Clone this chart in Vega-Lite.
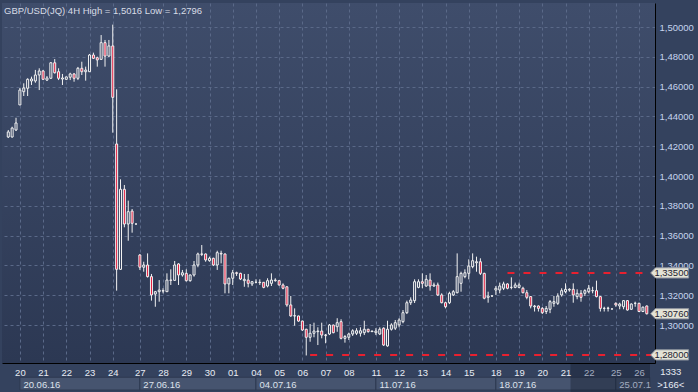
{
"$schema": "https://vega.github.io/schema/vega-lite/v6.json",
"width": 653, "height": 360,
"autosize": {"type": "none"},
"padding": {"left": 2, "top": 3, "right": 43, "bottom": 29},
"background": "#34425e",
"config": {
  "font": "Liberation Sans",
  "view": {"stroke": null, "fill": {"gradient": "linear", "x1": 0, "y1": 0, "x2": 0, "y2": 1, "stops": [{"offset": 0, "color": "#3f4d6b"}, {"offset": 1, "color": "#2c3853"}]}}
},
"title": {"text": "GBP/USD(JQ) 4H High = 1,5016 Low = 1,2796", "anchor": "start", "frame": "group", "offset": -12, "dx": 2, "fontSize": 9.5, "fontWeight": "normal", "color": "#d8dce6", "font": "Liberation Sans"},
"datasets": {
"candles": [
{"i":0,"o":1.4262,"h":1.4309,"l":1.4255,"c":1.4296},
{"i":1,"o":1.4262,"h":1.4331,"l":1.4258,"c":1.4322},
{"i":2,"o":1.4309,"h":1.4391,"l":1.4302,"c":1.4356},
{"i":3,"o":1.4477,"h":1.4591,"l":1.4477,"c":1.4577},
{"i":4,"o":1.4566,"h":1.4622,"l":1.4537,"c":1.4591},
{"i":5,"o":1.4589,"h":1.4656,"l":1.4537,"c":1.4649},
{"i":6,"o":1.4638,"h":1.4667,"l":1.4611,"c":1.4651},
{"i":7,"o":1.4638,"h":1.4712,"l":1.4626,"c":1.4678},
{"i":8,"o":1.4678,"h":1.4723,"l":1.4577,"c":1.4705},
{"i":9,"o":1.4705,"h":1.4712,"l":1.4644,"c":1.4649},
{"i":10,"o":1.4644,"h":1.4671,"l":1.4638,"c":1.4658},
{"i":11,"o":1.4656,"h":1.4765,"l":1.4651,"c":1.4760},
{"i":12,"o":1.4760,"h":1.4785,"l":1.4688,"c":1.4693},
{"i":13,"o":1.4700,"h":1.4723,"l":1.4644,"c":1.4656},
{"i":14,"o":1.4651,"h":1.4685,"l":1.4611,"c":1.4658},
{"i":15,"o":1.4649,"h":1.4667,"l":1.4644,"c":1.4665},
{"i":16,"o":1.4663,"h":1.4693,"l":1.4644,"c":1.4685},
{"i":17,"o":1.4685,"h":1.4691,"l":1.4633,"c":1.4656},
{"i":18,"o":1.4656,"h":1.4732,"l":1.4644,"c":1.4723},
{"i":19,"o":1.4723,"h":1.4767,"l":1.4678,"c":1.4700},
{"i":20,"o":1.4700,"h":1.4734,"l":1.4640,"c":1.4711},
{"i":21,"o":1.4700,"h":1.4819,"l":1.4700,"c":1.4812},
{"i":22,"o":1.4812,"h":1.4828,"l":1.4785,"c":1.4790},
{"i":23,"o":1.4794,"h":1.4801,"l":1.4734,"c":1.4779},
{"i":24,"o":1.4783,"h":1.4946,"l":1.4779,"c":1.4895},
{"i":25,"o":1.4895,"h":1.4913,"l":1.4734,"c":1.4805},
{"i":26,"o":1.4805,"h":1.4913,"l":1.4799,"c":1.4873},
{"i":27,"o":1.4873,"h":1.5016,"l":1.4291,"c":1.4528},
{"i":28,"o":1.4215,"h":1.4582,"l":1.3231,"c":1.3374},
{"i":29,"o":1.3374,"h":1.3978,"l":1.3370,"c":1.3911},
{"i":30,"o":1.3911,"h":1.3940,"l":1.3656,"c":1.3678},
{"i":31,"o":1.3678,"h":1.3835,"l":1.3566,"c":1.3761},
{"i":32,"o":1.3765,"h":1.3779,"l":1.3620,"c":1.3683},
{"i":33,"o":1.3678,"h":1.3680,"l":1.3676,"c":1.3678},
{"i":34,"o":1.3470,"h":1.3477,"l":1.3370,"c":1.3388},
{"i":35,"o":1.3388,"h":1.3425,"l":1.3358,"c":1.3403},
{"i":36,"o":1.3403,"h":1.3481,"l":1.3319,"c":1.3325},
{"i":37,"o":1.3325,"h":1.3343,"l":1.3164,"c":1.3202},
{"i":38,"o":1.3208,"h":1.3229,"l":1.3123,"c":1.3224},
{"i":39,"o":1.3224,"h":1.3302,"l":1.3157,"c":1.3235},
{"i":40,"o":1.3228,"h":1.3247,"l":1.3213,"c":1.3231},
{"i":41,"o":1.3224,"h":1.3347,"l":1.3222,"c":1.3302},
{"i":42,"o":1.3302,"h":1.3374,"l":1.3269,"c":1.3300},
{"i":43,"o":1.3300,"h":1.3430,"l":1.3298,"c":1.3403},
{"i":44,"o":1.3410,"h":1.3415,"l":1.3269,"c":1.3336},
{"i":45,"o":1.3336,"h":1.3370,"l":1.3325,"c":1.3351},
{"i":46,"o":1.3347,"h":1.3374,"l":1.3292,"c":1.3298},
{"i":47,"o":1.3298,"h":1.3340,"l":1.3291,"c":1.3336},
{"i":48,"o":1.3336,"h":1.3430,"l":1.3325,"c":1.3403},
{"i":49,"o":1.3403,"h":1.3486,"l":1.3388,"c":1.3477},
{"i":50,"o":1.3477,"h":1.3537,"l":1.3463,"c":1.3475},
{"i":51,"o":1.3477,"h":1.3480,"l":1.3425,"c":1.3437},
{"i":52,"o":1.3432,"h":1.3459,"l":1.3425,"c":1.3448},
{"i":53,"o":1.3448,"h":1.3452,"l":1.3396,"c":1.3403},
{"i":54,"o":1.3403,"h":1.3499,"l":1.3370,"c":1.3486},
{"i":55,"o":1.3481,"h":1.3499,"l":1.3414,"c":1.3477},
{"i":56,"o":1.3477,"h":1.3480,"l":1.3213,"c":1.3276},
{"i":57,"o":1.3276,"h":1.3318,"l":1.3213,"c":1.3314},
{"i":58,"o":1.3314,"h":1.3370,"l":1.3269,"c":1.3351},
{"i":59,"o":1.3351,"h":1.3358,"l":1.3330,"c":1.3347},
{"i":60,"o":1.3347,"h":1.3351,"l":1.3302,"c":1.3309},
{"i":61,"o":1.3298,"h":1.3343,"l":1.3257,"c":1.3307},
{"i":62,"o":1.3302,"h":1.3343,"l":1.3253,"c":1.3280},
{"i":63,"o":1.3276,"h":1.3295,"l":1.3262,"c":1.3291},
{"i":64,"o":1.3287,"h":1.3307,"l":1.3280,"c":1.3287},
{"i":65,"o":1.3287,"h":1.3307,"l":1.3269,"c":1.3285},
{"i":66,"o":1.3287,"h":1.3289,"l":1.3247,"c":1.3253},
{"i":67,"o":1.3262,"h":1.3314,"l":1.3253,"c":1.3298},
{"i":68,"o":1.3280,"h":1.3347,"l":1.3262,"c":1.3302},
{"i":69,"o":1.3302,"h":1.3314,"l":1.3291,"c":1.3298},
{"i":70,"o":1.3298,"h":1.3300,"l":1.3265,"c":1.3269},
{"i":71,"o":1.3269,"h":1.3280,"l":1.3240,"c":1.3247},
{"i":72,"o":1.3257,"h":1.3260,"l":1.3123,"c":1.3135},
{"i":73,"o":1.3135,"h":1.3195,"l":1.3056,"c":1.3061},
{"i":74,"o":1.3061,"h":1.3112,"l":1.2996,"c":1.3063},
{"i":75,"o":1.3061,"h":1.3063,"l":1.3022,"c":1.3027},
{"i":76,"o":1.3027,"h":1.3030,"l":1.2960,"c":1.2967},
{"i":77,"o":1.2972,"h":1.2975,"l":1.2796,"c":1.2918},
{"i":78,"o":1.2918,"h":1.3007,"l":1.2888,"c":1.2945},
{"i":79,"o":1.2945,"h":1.3016,"l":1.2918,"c":1.2960},
{"i":80,"o":1.2956,"h":1.2985,"l":1.2866,"c":1.2960},
{"i":81,"o":1.2960,"h":1.3016,"l":1.2911,"c":1.2933},
{"i":82,"o":1.2933,"h":1.2940,"l":1.2878,"c":1.2931},
{"i":83,"o":1.2940,"h":1.3007,"l":1.2933,"c":1.3000},
{"i":84,"o":1.3000,"h":1.3003,"l":1.2945,"c":1.2949},
{"i":85,"o":1.2989,"h":1.3046,"l":1.2955,"c":1.3016},
{"i":86,"o":1.3023,"h":1.3039,"l":1.2904,"c":1.2911},
{"i":87,"o":1.2911,"h":1.2933,"l":1.2882,"c":1.2923},
{"i":88,"o":1.2918,"h":1.2949,"l":1.2900,"c":1.2940},
{"i":89,"o":1.2940,"h":1.2972,"l":1.2927,"c":1.2962},
{"i":90,"o":1.2945,"h":1.2979,"l":1.2933,"c":1.2962},
{"i":91,"o":1.2945,"h":1.2985,"l":1.2923,"c":1.2962},
{"i":92,"o":1.2949,"h":1.3029,"l":1.2933,"c":1.2972},
{"i":93,"o":1.2972,"h":1.2975,"l":1.2949,"c":1.2956},
{"i":94,"o":1.2956,"h":1.2962,"l":1.2954,"c":1.2960},
{"i":95,"o":1.2949,"h":1.2979,"l":1.2933,"c":1.2960},
{"i":96,"o":1.2940,"h":1.2985,"l":1.2933,"c":1.2972},
{"i":97,"o":1.2979,"h":1.2985,"l":1.2860,"c":1.2866},
{"i":98,"o":1.2860,"h":1.3029,"l":1.2855,"c":1.2972},
{"i":99,"o":1.2972,"h":1.3012,"l":1.2963,"c":1.3001},
{"i":100,"o":1.2979,"h":1.3034,"l":1.2967,"c":1.3016},
{"i":101,"o":1.3001,"h":1.3046,"l":1.2985,"c":1.3034},
{"i":102,"o":1.3023,"h":1.3101,"l":1.3012,"c":1.3083},
{"i":103,"o":1.3083,"h":1.3164,"l":1.3074,"c":1.3150},
{"i":104,"o":1.3150,"h":1.3186,"l":1.3135,"c":1.3168},
{"i":105,"o":1.3164,"h":1.3307,"l":1.3148,"c":1.3291},
{"i":106,"o":1.3253,"h":1.3307,"l":1.3247,"c":1.3291},
{"i":107,"o":1.3291,"h":1.3347,"l":1.3247,"c":1.3280},
{"i":108,"o":1.3262,"h":1.3336,"l":1.3257,"c":1.3307},
{"i":109,"o":1.3302,"h":1.3347,"l":1.3231,"c":1.3262},
{"i":110,"o":1.3262,"h":1.3285,"l":1.3257,"c":1.3269},
{"i":111,"o":1.3269,"h":1.3285,"l":1.3195,"c":1.3202},
{"i":112,"o":1.3202,"h":1.3213,"l":1.3146,"c":1.3150},
{"i":113,"o":1.3150,"h":1.3157,"l":1.3112,"c":1.3123},
{"i":114,"o":1.3150,"h":1.3224,"l":1.3141,"c":1.3213},
{"i":115,"o":1.3202,"h":1.3235,"l":1.3195,"c":1.3224},
{"i":116,"o":1.3217,"h":1.3481,"l":1.3213,"c":1.3325},
{"i":117,"o":1.3280,"h":1.3358,"l":1.3224,"c":1.3347},
{"i":118,"o":1.3325,"h":1.3374,"l":1.3314,"c":1.3351},
{"i":119,"o":1.3347,"h":1.3441,"l":1.3307,"c":1.3396},
{"i":120,"o":1.3392,"h":1.3481,"l":1.3381,"c":1.3432},
{"i":121,"o":1.3418,"h":1.3459,"l":1.3358,"c":1.3425},
{"i":122,"o":1.3425,"h":1.3448,"l":1.3336,"c":1.3347},
{"i":123,"o":1.3347,"h":1.3351,"l":1.3173,"c":1.3180},
{"i":124,"o":1.3186,"h":1.3224,"l":1.3150,"c":1.3195},
{"i":125,"o":1.3195,"h":1.3198,"l":1.3192,"c":1.3195},
{"i":126,"o":1.3235,"h":1.3262,"l":1.3202,"c":1.3247},
{"i":127,"o":1.3235,"h":1.3285,"l":1.3213,"c":1.3262},
{"i":128,"o":1.3247,"h":1.3291,"l":1.3235,"c":1.3276},
{"i":129,"o":1.3276,"h":1.3280,"l":1.3240,"c":1.3247},
{"i":130,"o":1.3253,"h":1.3320,"l":1.3240,"c":1.3253},
{"i":131,"o":1.3253,"h":1.3285,"l":1.3247,"c":1.3269},
{"i":132,"o":1.3253,"h":1.3285,"l":1.3247,"c":1.3269},
{"i":133,"o":1.3247,"h":1.3257,"l":1.3213,"c":1.3217},
{"i":134,"o":1.3217,"h":1.3235,"l":1.3173,"c":1.3186},
{"i":135,"o":1.3191,"h":1.3195,"l":1.3112,"c":1.3128},
{"i":136,"o":1.3123,"h":1.3135,"l":1.3091,"c":1.3128},
{"i":137,"o":1.3128,"h":1.3132,"l":1.3091,"c":1.3112},
{"i":138,"o":1.3112,"h":1.3121,"l":1.3074,"c":1.3083},
{"i":139,"o":1.3091,"h":1.3128,"l":1.3074,"c":1.3112},
{"i":140,"o":1.3106,"h":1.3168,"l":1.3080,"c":1.3157},
{"i":141,"o":1.3146,"h":1.3195,"l":1.3123,"c":1.3157},
{"i":142,"o":1.3146,"h":1.3213,"l":1.3135,"c":1.3195},
{"i":143,"o":1.3202,"h":1.3247,"l":1.3191,"c":1.3231},
{"i":144,"o":1.3224,"h":1.3280,"l":1.3213,"c":1.3240},
{"i":145,"o":1.3235,"h":1.3247,"l":1.3224,"c":1.3240},
{"i":146,"o":1.3240,"h":1.3280,"l":1.3150,"c":1.3202},
{"i":147,"o":1.3191,"h":1.3240,"l":1.3173,"c":1.3213},
{"i":148,"o":1.3213,"h":1.3235,"l":1.3157,"c":1.3186},
{"i":149,"o":1.3213,"h":1.3240,"l":1.3195,"c":1.3231},
{"i":150,"o":1.3224,"h":1.3269,"l":1.3213,"c":1.3247},
{"i":151,"o":1.3231,"h":1.3257,"l":1.3213,"c":1.3231},
{"i":152,"o":1.3231,"h":1.3298,"l":1.3186,"c":1.3191},
{"i":153,"o":1.3191,"h":1.3195,"l":1.3091,"c":1.3112},
{"i":154,"o":1.3112,"h":1.3123,"l":1.3091,"c":1.3112},
{"i":155,"o":1.3112,"h":1.3123,"l":1.3091,"c":1.3114},
{"i":156,"o":1.3108,"h":1.3110,"l":1.3106,"c":1.3108},
{"i":157,"o":1.3146,"h":1.3153,"l":1.3123,"c":1.3135},
{"i":158,"o":1.3128,"h":1.3150,"l":1.3106,"c":1.3141},
{"i":159,"o":1.3123,"h":1.3168,"l":1.3106,"c":1.3164},
{"i":160,"o":1.3164,"h":1.3168,"l":1.3097,"c":1.3101},
{"i":161,"o":1.3106,"h":1.3146,"l":1.3101,"c":1.3141},
{"i":162,"o":1.3146,"h":1.3157,"l":1.3123,"c":1.3146},
{"i":163,"o":1.3146,"h":1.3150,"l":1.3087,"c":1.3091},
{"i":164,"o":1.3091,"h":1.3125,"l":1.3087,"c":1.3120},
{"i":165,"o":1.3128,"h":1.3132,"l":1.3071,"c":1.3076}
],
"weeks": [
{"start": 3, "end": 34},
{"start": 34, "end": 64},
{"start": 64, "end": 95},
{"start": 95, "end": 126},
{"start": 126, "end": 157},
{"start": 157, "end": 165.83}
],
"levels": [
{"price": 1.335, "from": 129, "to": 168},
{"price": 1.28, "from": 78, "to": 168}
],
"tags": [
{"price": 1.335, "label": "1,33500"},
{"price": 1.3076, "label": "1,30760"},
{"price": 1.28, "label": "1,28000"}
]
},
"resolve": {"axis": {"x": "independent", "y": "independent"}},
"layer": [
{
  "data": {"name": "candles"},
  "mark": {"type": "rule", "color": "#f2f2f2", "strokeWidth": 1},
  "encoding": {
    "x": {"field": "i", "type": "quantitative",
      "scale": {"domain": [-0.33, 165.83], "nice": false, "zero": false},
      "axis": {"orient": "bottom", "title": null, "values": [3,9,15,21,27,34,40,46,52,58,64,70,76,82,88,95,101,107,113,119,126,132,138,144,150,157,163],
        "labelExpr": "['20','21','22','23','24','27','28','29','30','01','04','05','06','07','08','11','12','13','14','15','18','19','20','21','22','25','26'][indexof([3,9,15,21,27,34,40,46,52,58,64,70,76,82,88,95,101,107,113,119,126,132,138,144,150,157,163], datum.value)]",
        "grid": false,
        "ticks": false, "domain": true, "domainColor": "#000000", "domainWidth": 1,
        "labelFont": "Liberation Sans", "labelFontSize": 9.5, "labelPadding": 4,
        "labelColor": {"condition": {"test": "datum.value > 146", "value": "#a4adc0"}, "value": "#e8ecf4"},
        "labelFlush": false, "labelOverlap": false, "zindex": 1}},
    "y": {"field": "l", "type": "quantitative",
      "scale": {"domain": [1.27455, 1.51611], "nice": false, "zero": false},
      "axis": {"orient": "right", "title": null, "values": [1.30,1.32,1.34,1.36,1.38,1.40,1.42,1.44,1.46,1.48,1.50],
        "labelExpr": "replace(format(datum.value, '.5f'), '.', ',')",
        "grid": true, "gridColor": "#5a6988", "gridDash": [3, 3], "gridWidth": 1,
        "ticks": false, "domain": true, "domainColor": "#000000", "domainWidth": 1,
        "labelFont": "Liberation Sans", "labelFontSize": 9.5, "labelPadding": 4, "labelColor": "#c6d4ee",
        "labelFlush": false, "labelOverlap": false, "zindex": 0}},
    "y2": {"field": "h"}
  }
},
{
  "data": {"name": "candles"},
  "mark": {"type": "bar", "width": 2, "stroke": "#f2f2f2", "strokeWidth": 1},
  "encoding": {
    "x": {"field": "i", "type": "quantitative",
      "axis": {"orient": "bottom", "title": null, "values": [3,34,64,95,126,157],
        "labelExpr": "['20.06.16','27.06.16','04.07.16','11.07.16','18.07.16','25.07.1'][indexof([3,34,64,95,126,157], datum.value)]",
        "grid": false, "ticks": false, "domain": false,
        "labelAlign": "left", "labelOffset": 3, "labelPadding": 16,
        "labelFont": "Liberation Sans", "labelFontSize": 9.5,
        "labelColor": {"condition": {"test": "datum.value > 150", "value": "#a4adc0"}, "value": "#dde2ec"},
        "labelFlush": false, "labelOverlap": false, "zindex": 1}},
    "y": {"field": "o", "type": "quantitative", "axis": null},
    "y2": {"field": "c"},
    "fill": {"condition": {"test": "datum.c < datum.o", "value": "#e3173a"}, "value": "#35425f"}
  }
},
{
  "data": {"name": "weeks"},
  "mark": {"type": "rect", "fill": "#46546f", "stroke": "#2e3a52", "strokeWidth": 1, "clip": false},
  "encoding": {
    "x": {"field": "start", "type": "quantitative",
      "axis": {"orient": "bottom", "title": null, "values": [3,9,15,21,27,34,40,46,52,58,64,70,76,82,88,95,101,107,113,119,126,132,138,144,150,157,163],
        "grid": true, "gridColor": "#5a6988", "gridDash": [3, 3], "gridWidth": 1,
        "labels": false, "ticks": false, "domain": false, "zindex": 0}},
    "x2": {"field": "end"},
    "y": {"datum": 1.26496, "type": "quantitative", "axis": null},
    "y2": {"datum": 1.25643}
  }
},
{
  "data": {"values": [{"note": "view"}]},
  "mark": {"type": "rect", "fill": "#151d30", "opacity": 0.4, "clip": false},
  "encoding": {
    "x": {"datum": 145.3, "type": "quantitative", "axis": null},
    "x2": {"datum": 165.83},
    "y": {"datum": 1.27455, "type": "quantitative", "axis": null},
    "y2": {"datum": 1.2551}
  }
},
{
  "data": {"name": "levels"},
  "mark": {"type": "rule", "color": "#e8202f", "strokeWidth": 2, "strokeDash": [7, 9], "clip": true},
  "encoding": {
    "x": {"field": "from", "type": "quantitative", "axis": null},
    "x2": {"field": "to"},
    "y": {"field": "price", "type": "quantitative", "axis": null}
  }
},
{
  "data": {"name": "tags"},
  "mark": {"type": "point", "shape": "M-1,0L-0.74,-0.27L1,-0.27L1,0.27L-0.74,0.27Z", "size": 1444, "filled": true, "fill": "#e4e3d6", "stroke": "#8d939e", "strokeWidth": 1, "opacity": 1, "clip": false},
  "encoding": {
    "x": {"datum": 170.9, "type": "quantitative", "axis": null},
    "y": {"field": "price", "type": "quantitative", "axis": null}
  }
},
{
  "data": {"name": "tags"},
  "mark": {"type": "text", "font": "Liberation Sans", "fontSize": 9.5, "color": "#1e2430", "align": "center", "baseline": "middle", "clip": false},
  "encoding": {
    "x": {"datum": 171.4, "type": "quantitative", "axis": null},
    "y": {"field": "price", "type": "quantitative", "axis": null},
    "text": {"field": "label"}
  }
},
{
  "data": {"values": [{"t": "1333"}]},
  "mark": {"type": "text", "font": "Liberation Sans", "fontSize": 9.5, "color": "#e8ecf4", "align": "center", "baseline": "middle", "clip": false},
  "encoding": {
    "x": {"datum": 171.2, "type": "quantitative", "axis": null},
    "y": {"datum": 1.2685, "type": "quantitative", "axis": null},
    "text": {"field": "t"}
  }
},
{
  "data": {"values": [{"t": ">166<"}]},
  "mark": {"type": "text", "font": "Liberation Sans", "fontSize": 9.5, "color": "#e8ecf4", "align": "center", "baseline": "middle", "clip": false},
  "encoding": {
    "x": {"datum": 171.2, "type": "quantitative", "axis": null},
    "y": {"datum": 1.2598, "type": "quantitative", "axis": null},
    "text": {"field": "t"}
  }
}
]
}
